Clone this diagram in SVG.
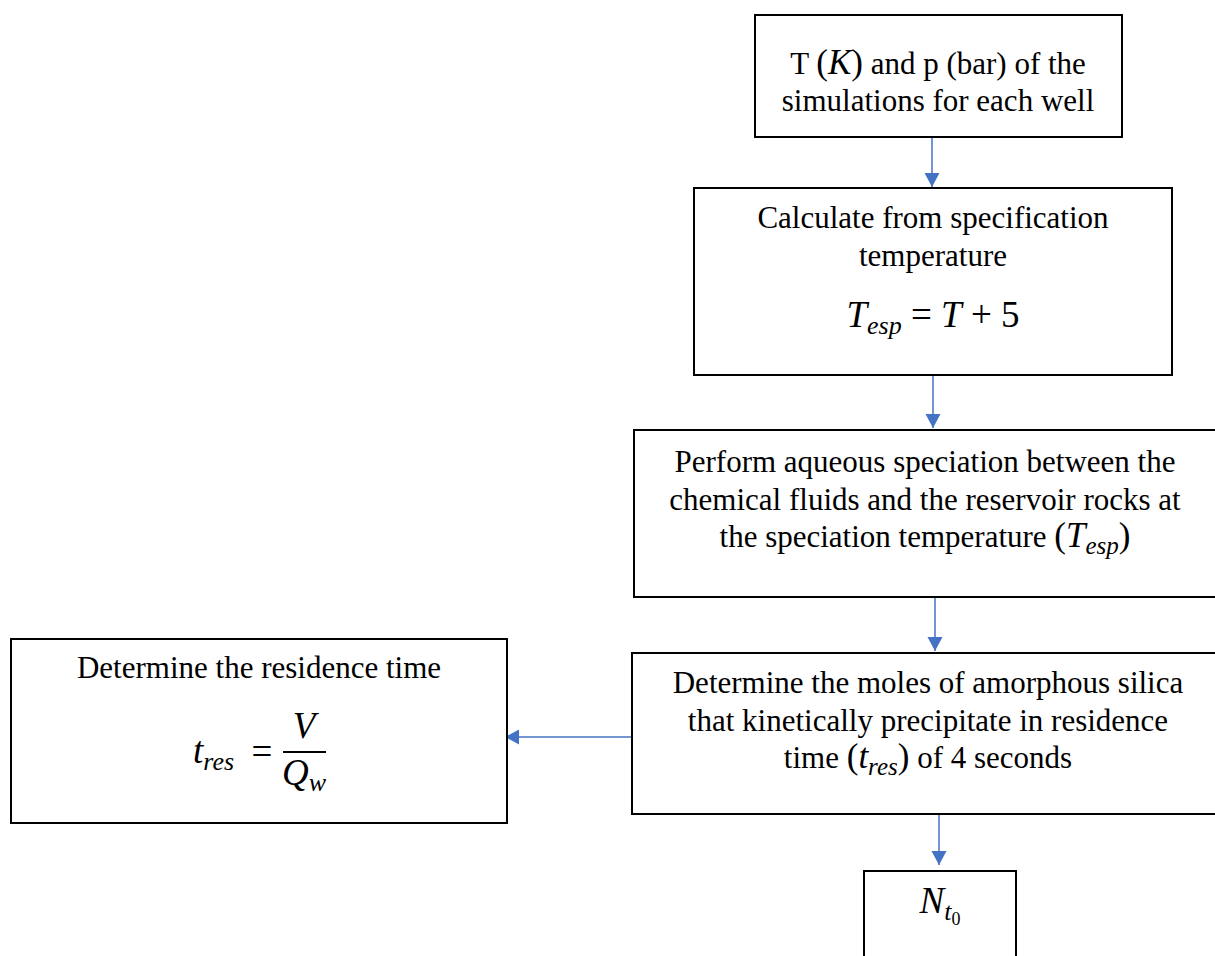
<svg xmlns="http://www.w3.org/2000/svg" width="1215" height="956" viewBox="0 0 1215 956">
<style>
.box{fill:#fff;stroke:#000;stroke-width:2}
.t{font-family:"Liberation Serif","Times New Roman",serif;font-size:31px;fill:#000;text-anchor:middle}
.f{font-family:"Liberation Serif","Times New Roman",serif;font-size:37px;fill:#000}
.m{font-family:"Liberation Serif","Times New Roman",serif;font-style:italic}
.mu{font-family:"Liberation Serif","Times New Roman",serif;font-style:normal}
.conn{stroke:#4472C4;stroke-width:1.5;fill:none}
</style>
<defs>
<marker id="ah" markerUnits="userSpaceOnUse" markerWidth="16" markerHeight="16" refX="14" refY="7.5" orient="auto">
<path d="M0,0 L14,7.5 L0,15 Z" fill="#4472C4"/>
</marker>
</defs>
<rect width="1215" height="956" fill="#fff"/>
<g id="connectors">
<line class="conn" x1="932" y1="138" x2="932" y2="187" marker-end="url(#ah)"/>
<line class="conn" x1="933" y1="376" x2="933" y2="428" marker-end="url(#ah)"/>
<line class="conn" x1="935" y1="598" x2="935" y2="651" marker-end="url(#ah)"/>
<line class="conn" x1="939" y1="815" x2="939" y2="865" marker-end="url(#ah)"/>
<line class="conn" x1="632" y1="737" x2="505" y2="737" marker-end="url(#ah)"/>
</g>
<g id="node1">
<rect class="box" x="755" y="15" width="367" height="122"/>
<text class="t" x="938" y="74">T <tspan class="mu" font-size="35">(</tspan><tspan class="m" font-size="35">K</tspan><tspan class="mu" font-size="35">)</tspan> and p (bar) of the</text>
<text class="t" x="938" y="111">simulations for each well</text>
</g>
<g id="node2">
<rect class="box" x="694" y="188" width="478" height="187"/>
<text class="t" x="933" y="228">Calculate from specification</text>
<text class="t" x="933" y="266">temperature</text>
<text class="f" x="933" y="327" text-anchor="middle"><tspan class="m">T</tspan><tspan class="m" font-size="26" dy="7">esp</tspan><tspan class="mu" dy="-7"> = </tspan><tspan class="m">T</tspan><tspan class="mu"> + 5</tspan></text>
</g>
<g id="node3">
<rect class="box" x="634" y="430" width="590" height="167"/>
<text class="t" x="925" y="472">Perform aqueous speciation between the</text>
<text class="t" x="925" y="510">chemical fluids and the reservoir rocks at</text>
<text class="t" x="925" y="547">the speciation temperature <tspan class="mu" font-size="35">(</tspan><tspan class="m" font-size="35">T</tspan><tspan class="m" font-size="25" dy="7">esp</tspan><tspan class="mu" font-size="35" dy="-7">)</tspan></text>
</g>
<g id="node4">
<rect class="box" x="632" y="653" width="592" height="161"/>
<text class="t" x="928" y="693">Determine the moles of amorphous silica</text>
<text class="t" x="928" y="731">that kinetically precipitate in residence</text>
<text class="t" x="928" y="768">time <tspan class="mu" font-size="35">(</tspan><tspan class="m" font-size="35">t</tspan><tspan class="m" font-size="25" dy="7">res</tspan><tspan class="mu" font-size="35" dy="-7">)</tspan> of 4 seconds</text>
</g>
<g id="node5">
<rect class="box" x="11" y="639" width="496" height="184"/>
<text class="t" x="259" y="678">Determine the residence time</text>
<text class="f" x="193" y="763" text-anchor="start"><tspan class="m">t</tspan><tspan class="m" font-size="26" dy="7">res</tspan></text>
<text class="f mu" x="262" y="764" text-anchor="middle">=</text>
<line x1="283" y1="752" x2="326" y2="752" stroke="#000" stroke-width="2.2"/>
<text class="f m" x="304" y="738" text-anchor="middle">V</text>
<text class="f" x="304" y="785" text-anchor="middle"><tspan class="m">Q</tspan><tspan class="m" font-size="26" dy="6">w</tspan></text>
</g>
<g id="node6">
<rect class="box" x="864" y="871" width="152" height="100"/>
<text class="f" x="940" y="913" text-anchor="middle"><tspan class="m">N</tspan><tspan class="m" font-size="26" dy="7">t</tspan><tspan class="mu" font-size="18" dy="5">0</tspan></text>
</g>
</svg>
